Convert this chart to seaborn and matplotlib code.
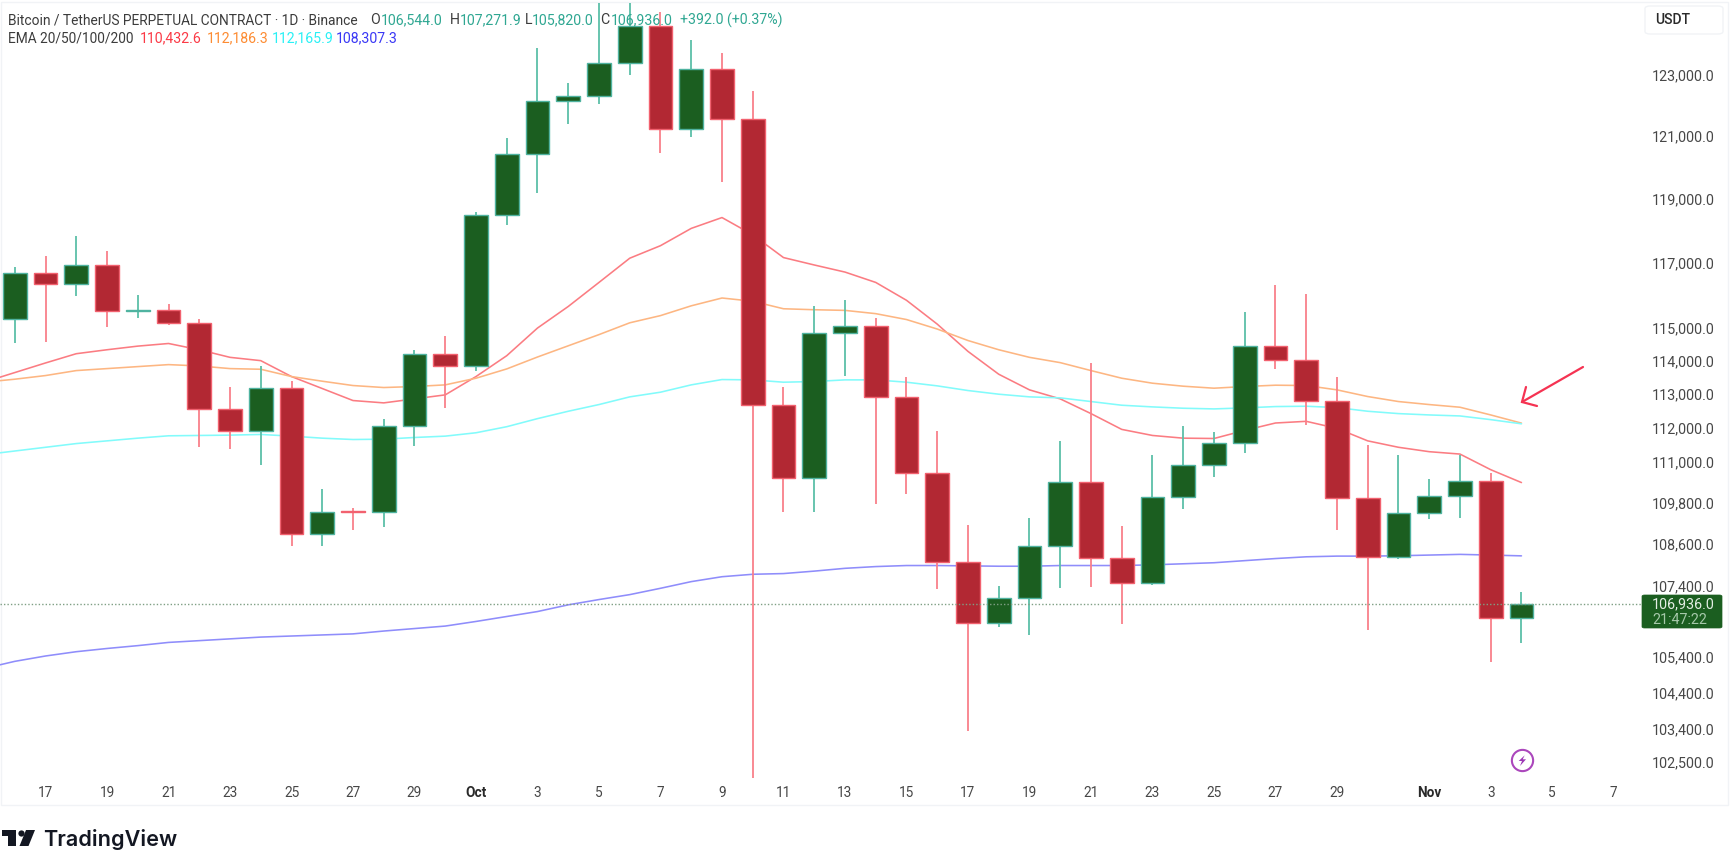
import matplotlib
matplotlib.use("Agg")
import matplotlib.pyplot as plt
from matplotlib.lines import Line2D
from matplotlib.patches import FancyBboxPatch, Polygon, Rectangle
from matplotlib.ticker import NullLocator
from matplotlib.transforms import ScaledTranslation
import pandas as pd
import seaborn as sns

W, H = 1735, 864

# Свечи 16 сен - 4 ноя
candle_dates = pd.date_range("2025-09-16", "2025-11-04")
opens = [115320, 116730, 116400, 117000, 115570, 115610, 115190, 112620, 111960, 113250,
         108940, 109610, 109580, 112110, 114250, 113900, 118550, 120470, 122190, 122360,
         123420, 124630, 121300, 123240, 121610, 112720, 110570, 114900, 115120, 112970,
         110710, 108120, 106390, 107110, 108580, 110460, 108250, 107530, 110020, 110950,
         111590, 114510, 114080, 112850, 109980, 108270, 109550, 110040, 110480, 106544]
highs = [116920, 117280, 117880, 117410, 116060, 115790, 115340, 113260, 113900, 113460,
         110250, 109690, 112320, 114390, 114800, 118650, 121000, 123910, 122770, 125700,
         126200, 125090, 124190, 123750, 122500, 113280, 115720, 115920, 115360, 113560,
         111960, 109210, 107450, 109400, 111660, 113980, 109160, 111240, 112090, 111910,
         115530, 116370, 116080, 113580, 111550, 111240, 110550, 111240, 110710, 107271.9]
lows = [114610, 114640, 116040, 115070, 115360, 115150, 111480, 111420, 110950, 108580,
        108580, 109040, 109140, 111520, 112640, 113760, 118240, 119230, 121450, 122100,
        123020, 120530, 121030, 119590, 102120, 109580, 109580, 113610, 109820, 110110,
        107360, 103380, 106290, 106070, 107380, 107420, 106380, 107470, 109660, 110610,
        111310, 113800, 112140, 109040, 106210, 108230, 109370, 109390, 105300, 105820]
closes = [116730, 116400, 117000, 115570, 115610, 115190, 112620, 111960, 113250, 108940,
          109580, 109580, 112110, 114250, 113900, 118550, 120470, 122190, 122360, 123420,
          124630, 121300, 123240, 121610, 112720, 110570, 114900, 115120, 112970, 110710,
          108120, 106390, 107110, 108580, 110460, 108250, 107530, 110020, 110950, 111590,
          114510, 114080, 112850, 109980, 108270, 109550, 110040, 110480, 106544, 106936]

# EMA 15 сен - 4 ноя
ema_dates = pd.date_range("2025-09-15", "2025-11-04")
ema20 = [113410, 113700, 113990, 114270, 114390, 114500, 114580, 114390, 114160, 114060,
         113580, 113220, 112860, 112790, 112910, 113030, 113580, 114210, 115050, 115710,
         116450, 117200, 117590, 118130, 118470, 117930, 117220, 116990, 116770, 116450,
         115900, 115170, 114340, 113650, 113180, 112910, 112470, 112000, 111820, 111740,
         111730, 111970, 112190, 112240, 112030, 111660, 111470, 111340, 111270, 110810,
         110432.6]
ema50 = [113410, 113500, 113610, 113760, 113820, 113880, 113940, 113900, 113820, 113800,
         113580, 113440, 113310, 113250, 113280, 113330, 113530, 113810, 114170, 114510,
         114850, 115210, 115430, 115730, 115970, 115870, 115640, 115610, 115590, 115490,
         115310, 115020, 114670, 114390, 114160, 114000, 113760, 113530, 113380, 113290,
         113230, 113280, 113320, 113310, 113180, 112980, 112830, 112740, 112660, 112430,
         112186.3]
ema100 = [111250, 111360, 111470, 111580, 111660, 111740, 111810, 111820, 111830, 111850,
          111800, 111740, 111700, 111710, 111760, 111800, 111900, 112080, 112320, 112540,
          112740, 112970, 113110, 113330, 113490, 113480, 113410, 113430, 113480, 113480,
          113410, 113300, 113160, 113050, 112970, 112940, 112830, 112720, 112670, 112630,
          112610, 112640, 112680, 112690, 112650, 112540, 112470, 112430, 112400, 112290,
          112165.9]
ema200 = [105120, 105320, 105470, 105590, 105680, 105760, 105850, 105900, 105950, 106000,
          106030, 106060, 106090, 106170, 106240, 106310, 106440, 106580, 106720, 106910,
          107060, 107200, 107380, 107570, 107710, 107780, 107800, 107870, 107950, 108000,
          108030, 108030, 108020, 108010, 108010, 108030, 108030, 108030, 108050, 108080,
          108110, 108170, 108230, 108280, 108300, 108300, 108310, 108330, 108350, 108330,
          108307.3]

price_ticks = [123000, 121000, 119000, 117000, 115000, 114000, 113000, 112000, 111000,
               109800, 108600, 107400, 105400, 104400, 103400, 102500]
last_price = 106936

ohlc_labels = ["106,544.0", "107,271.9", "105,820.0", "106,936.0"]
ema_labels = ["110,432.6", "112,186.3", "112,165.9", "108,307.3"]

GREEN = "#1b5e20"
RED = "#b22833"

sns.set_theme(style="white")
plt.rcParams["font.family"] = ["Roboto", "DejaVu Sans"]


def px(x, y):
    # пиксели картинки (сверху вниз) -> доли фигуры
    return x / W, 1 - y / H


def pts(*points):
    return [px(*p) for p in points]


fig = plt.figure(figsize=(W / 100, H / 100), dpi=100, facecolor="white")
ax_left, ax_top = px(0, 3)
ax_right, ax_bottom = px(1642, 779)
ax = fig.add_axes([ax_left, ax_bottom, ax_right - ax_left, ax_top - ax_bottom])
ax.set_facecolor("none")
ax.set_yscale("log")

# EMA
ema_df = pd.DataFrame({"date": ema_dates, "EMA 20": ema20, "EMA 50": ema50,
                       "EMA 100": ema100, "EMA 200": ema200})
ema_long = ema_df.melt(id_vars="date", var_name="ema", value_name="price")
sns.lineplot(data=ema_long, x="date", y="price", hue="ema", estimator=None, legend=False,
             palette={"EMA 20": "#fb7c82", "EMA 50": "#fdb682", "EMA 100": "#82fbfb", "EMA 200": "#8f8dfb"},
             linewidth=1.15, ax=ax, zorder=2)

# Свечи
df = pd.DataFrame({"date": candle_dates, "o": opens, "h": highs, "l": lows, "c": closes})
up = df[df["c"] >= df["o"]]
down = df[df["c"] < df["o"]]
ax.vlines(up["date"], up["l"], up["h"], color="#5cbfa8", lw=1.3, zorder=3)
ax.vlines(down["date"], down["l"], down["h"], color="#f9808a", lw=1.3, zorder=3)
ax.bar(up["date"], up["c"] - up["o"], bottom=up["o"], width=0.77, color=GREEN,
       edgecolor="#4fb3a0", linewidth=1.0, zorder=4)
ax.bar(down["date"], down["o"] - down["c"], bottom=down["c"], width=0.77, color=RED,
       edgecolor="#f2616f", linewidth=1.0, zorder=4)

ax.axhline(last_price, color="#7f9f84", lw=1.0, ls=(0, (1, 1.5)), zorder=5)

day0 = pd.Timestamp("2025-09-16")
ax.set_xlim(day0 - pd.Timedelta(days=0.48), day0 + pd.Timedelta(days=52.92))
ax.set_ylim(102086, 125404)

ax.yaxis.tick_right()
ax.set_yticks(price_ticks, labels=[f"{t:,.1f}" for t in price_ticks])
ax.yaxis.set_minor_locator(NullLocator())
ax.tick_params(axis="y", length=0, pad=7.2, labelsize=10.3, labelcolor="#474747")
lift = ScaledTranslation(0, 1.6 / 100, fig.dpi_scale_trans)
for lab in ax.get_yticklabels():
    lab.set_transform(lab.get_transform() + lift)

tick_days = pd.to_datetime([f"2025-09-{d}" for d in range(17, 30, 2)]
                           + [f"2025-10-{d:02d}" for d in range(1, 30, 2)]
                           + [f"2025-11-{d:02d}" for d in range(1, 8, 2)])
tick_labels = [{1: t.strftime("%b")}.get(t.day, str(t.day)) for t in tick_days]
ax.set_xticks(tick_days, labels=tick_labels)
ax.tick_params(axis="x", length=0, pad=5, labelsize=9.8, labelcolor="#474747")
for lab in ax.get_xticklabels():
    if lab.get_text() in ("Oct", "Nov"):
        lab.set_fontweight("bold")
        lab.set_color("#2a2a2a")
ax.set_xlabel("")
ax.set_ylabel("")
sns.despine(ax=ax, left=True, bottom=True, right=True, top=True)
ax.grid(False)

# Рамка графика
fig.add_artist(Rectangle(px(1, 805), 1727 / W, 803 / H, transform=fig.transFigure,
                         fc="none", ec="#f1f3f6", lw=1.0, zorder=0))


def label(x, y, s, color="#3c3c3c", size=10.15, **kw):
    fx, fy = px(x, y)
    fig.text(fx, fy, s, color=color, fontsize=size, va="center", ha=kw.pop("ha", "left"), **kw)


# Шапка
TEAL = "#2fa792"
label(8, 20.5, "Bitcoin / TetherUS PERPETUAL CONTRACT · 1D · Binance", size=9.9)
label(370, 20.5, "O")
label(381, 20.5, ohlc_labels[0], TEAL)
label(450, 20.5, "H")
label(460, 20.5, ohlc_labels[1], TEAL)
label(525, 20.5, "L")
label(532, 20.5, ohlc_labels[2], TEAL)
label(600, 20.5, "C")
label(611, 20.5, ohlc_labels[3], TEAL)
label(680, 20.5, "+392.0 (+0.37%)", TEAL)
label(8, 38.5, "EMA 20/50/100/200", size=9.9)
for x0, s, c in zip([140, 207, 272, 336], ema_labels, ["#fb3a46", "#fd8c33", "#2af0f5", "#3a38f5"]):
    label(x0, 38.5, s, c)

# USDT
x0, y0 = px(1645, 34)
fig.add_artist(FancyBboxPatch((x0, y0), 78 / W, 28 / H, transform=fig.transFigure,
                              boxstyle="round,pad=0,rounding_size=0.003", fc="white",
                              ec="#f1f3f6", lw=1.0))
label(1655, 20.5, "USDT", "#2a2a2a", 10, fontweight="medium")

# Плашка цены
x0, y0 = px(1642, 628)
fig.add_artist(FancyBboxPatch((x0, y0), 80 / W, 33 / H, transform=fig.transFigure,
                              boxstyle="round,pad=0,rounding_size=0.0015", fc=GREEN,
                              ec=GREEN, lw=0.5, zorder=6))
label(1652, 604, f"{last_price:,.1f}", "#e4eee5", 10.3, zorder=7)
label(1652, 619.5, "21:47:22", "#a6c9aa", 10.3, zorder=7)

# Стрелка
arrow = "#f53352"
for line in (pts((1583, 367), (1522, 402)), pts((1526, 387), (1522, 402), (1537, 406))):
    fig.add_artist(Line2D([p[0] for p in line], [p[1] for p in line], color=arrow, lw=1.6,
                          solid_capstyle="round", solid_joinstyle="miter",
                          transform=fig.transFigure, zorder=6))

# Значок молнии
cx, cy = px(1522, 760)
fig.add_artist(Line2D([cx], [cy], marker="o", ms=15.3, mfc="white", mec="#ab47bc", mew=1.5,
                      transform=fig.transFigure, zorder=5))
fig.add_artist(Polygon(pts((1524.7, 755.3), (1518.7, 761), (1522, 761), (1520, 766),
                           (1526, 759.3), (1522.7, 759.3)), closed=True,
                       transform=fig.transFigure, fc="#9c36b5", ec="none", zorder=6))

# Логотип TradingView
logo = "#131722"
for shape in (pts((2, 830), (16, 830), (16, 846), (8, 846), (8, 836), (2, 836)),
              pts((26, 830), (35, 830), (28.5, 846), (19.5, 846))):
    fig.add_artist(Polygon(shape, closed=True, transform=fig.transFigure, fc=logo, ec="none"))
cx, cy = px(20.5, 832.7)
fig.add_artist(Line2D([cx], [cy], marker="o", ms=4.5, mfc=logo, mec="none", transform=fig.transFigure))
label(43, 840, "TradingView", logo, 15.6, fontweight="semibold", family=["Inter", "Roboto"])

fig.savefig("out.png", dpi=100, facecolor="white")
